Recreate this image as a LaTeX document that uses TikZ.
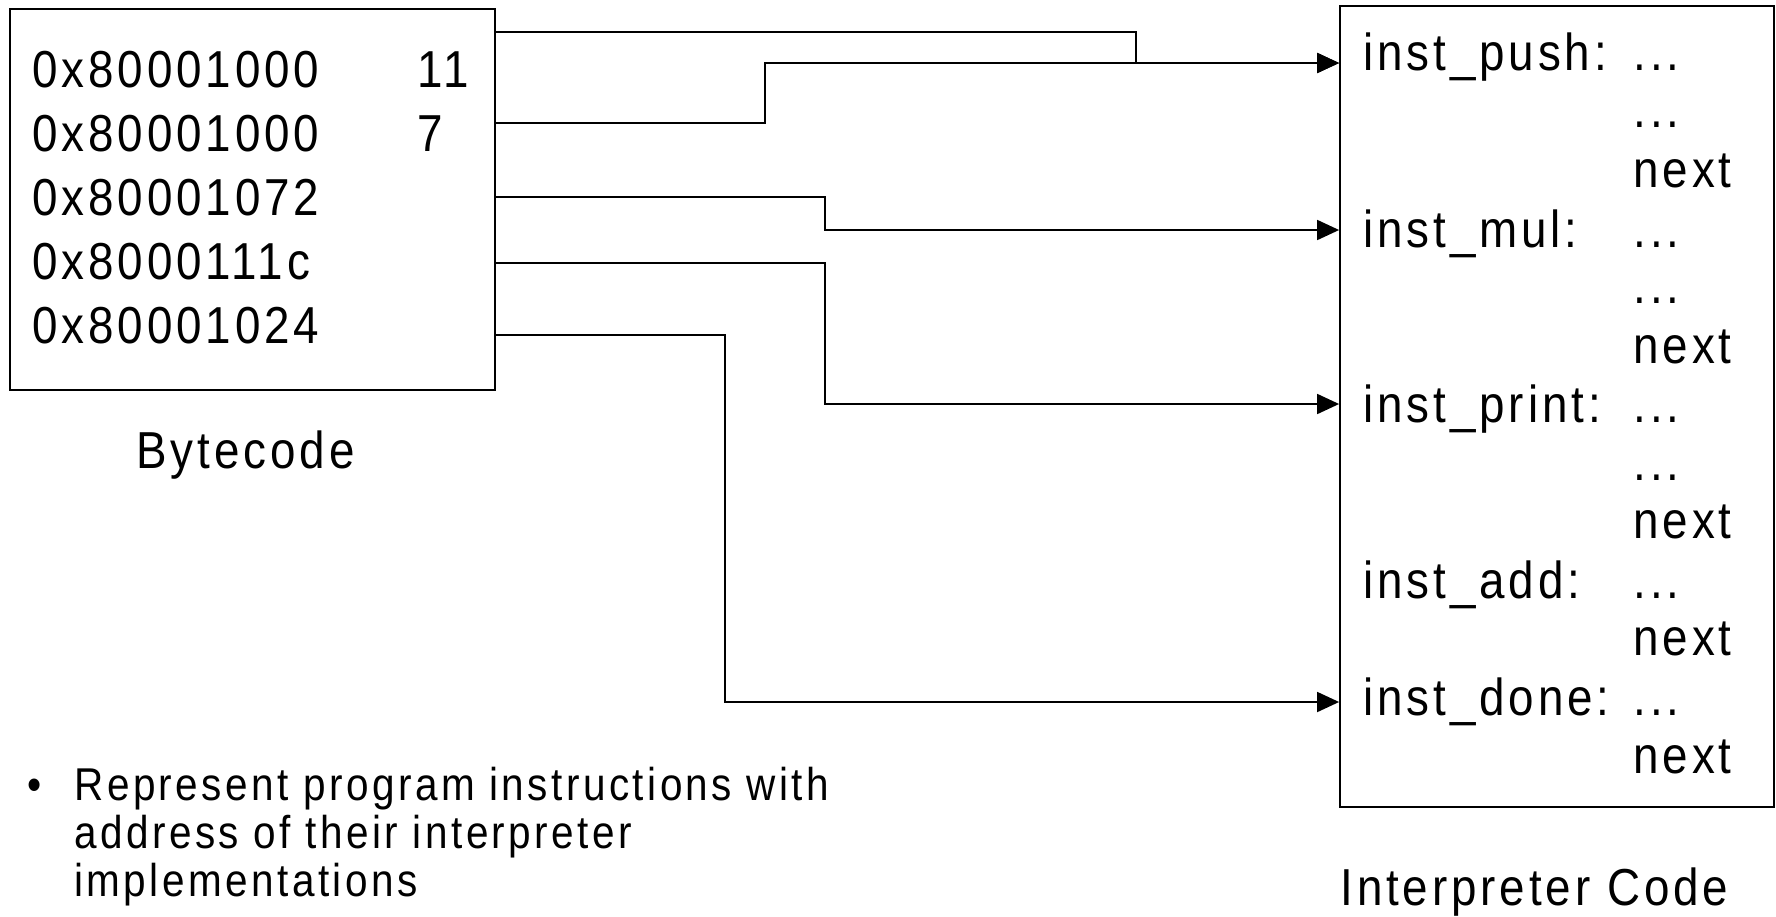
\documentclass[tikz,border=0pt]{standalone}
\usepackage{fontspec}
\setmainfont{Liberation Sans}[FakeStretch=0.88,LetterSpace=7.5]
\usetikzlibrary{arrows.meta}
\begin{document}
\begin{tikzpicture}[x=0.5pt,y=-0.5pt,
  panel/.style={draw,line width=0.9pt,inner sep=0pt},
  lbl/.style={inner sep=0pt,anchor=base west,font=\fontsize{26pt}{30pt}\selectfont},
  note/.style={inner sep=0pt,anchor=base west,font=\fontsize{23pt}{28pt}\selectfont},
  conn/.style={line width=0.9pt,-{Triangle[length=11pt,width=10pt]}}]
\useasboundingbox (0,0) rectangle (1776,916);

% bytecode panel
\node[panel,minimum width=242.5pt,minimum height=190.5pt] (bc) at (252.5,199.5) {};
\node[lbl] (a1) at (32,87)  {0x80001000};
\node[lbl] (a2) at (32,151) {0x80001000};
\node[lbl] (a3) at (32,215) {0x80001072};
\node[lbl] (a4) at (32,279) {0x8000111c};
\node[lbl] (a5) at (32,343) {0x80001024};
\node[lbl] (o1) at (417,87)  {11};
\node[lbl] (o2) at (417,151) {7};
\node[lbl] (bcl) at (136,468) {Bytecode};

% interpreter panel
\node[panel,minimum width=217pt,minimum height=400.5pt] (ic) at (1557,406.5) {};
\node[lbl] (l1)  at (1363,70)  {inst\_push:};
\node[lbl] (r1)  at (1633,70)  {...};
\node[lbl] (r2)  at (1633,127) {...};
\node[lbl] (r3)  at (1633,187) {next};
\node[lbl] (l4)  at (1363,247) {inst\_mul:};
\node[lbl] (r4)  at (1633,247) {...};
\node[lbl] (r5)  at (1633,303) {...};
\node[lbl] (r6)  at (1633,363) {next};
\node[lbl] (l7)  at (1363,422) {inst\_print:};
\node[lbl] (r7)  at (1633,422) {...};
\node[lbl] (r8)  at (1633,480) {...};
\node[lbl] (r9)  at (1633,538) {next};
\node[lbl] (l10) at (1363,598) {inst\_add:};
\node[lbl] (r10) at (1633,598) {...};
\node[lbl] (r11) at (1633,655) {next};
\node[lbl] (l12) at (1363,715) {inst\_done:};
\node[lbl] (r12) at (1633,715) {...};
\node[lbl] (r13) at (1633,773) {next};
\node[lbl] (icl) at (1340,905) {Interpreter Code};

% dispatch connectors
\draw[conn] (bc.east |- 0,32)  -| (1136,63)  -- (ic.west |- 0,63);
\draw[conn] (bc.east |- 0,123) -| (765,63)   -- (ic.west |- 0,63);
\draw[conn] (bc.east |- 0,197) -| (825,230)  -- (ic.west |- 0,230);
\draw[conn] (bc.east |- 0,263) -| (825,404)  -- (ic.west |- 0,404);
\draw[conn] (bc.east |- 0,335) -| (725,702)  -- (ic.west |- 0,702);

% bullet note
\node[note] (bul) at (27,800) {•};
\node[note] (n1) at (74,800) {Represent program instructions with};
\node[note] (n2) at (74,848) {address of their interpreter};
\node[note] (n3) at (74,896) {implementations};
\end{tikzpicture}
\end{document}
